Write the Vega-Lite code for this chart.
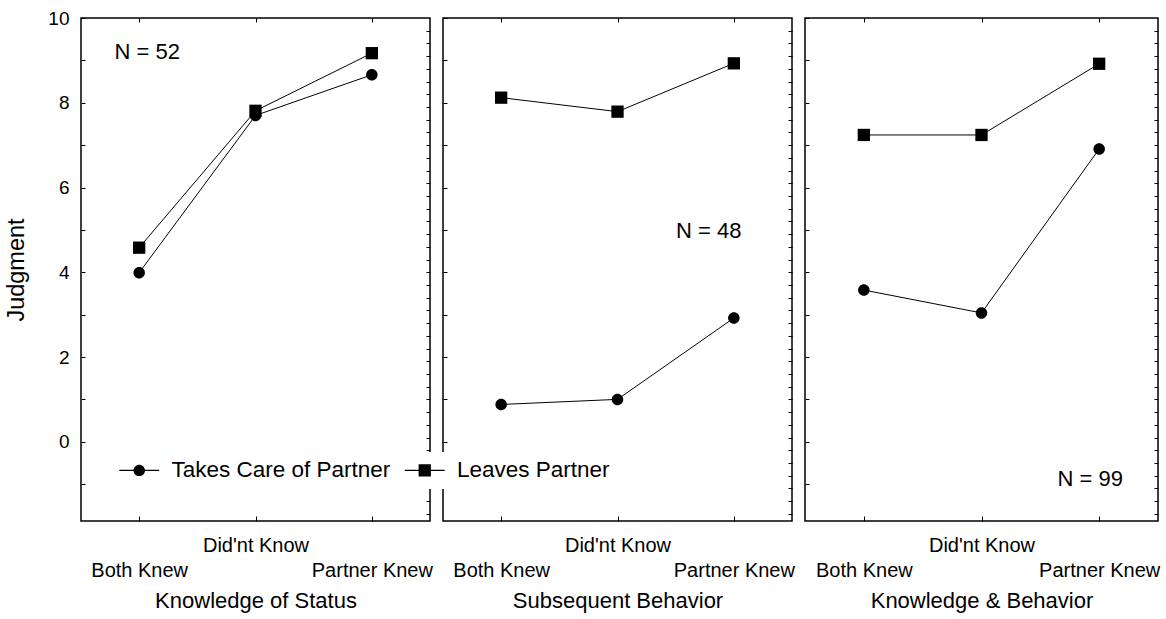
{
  "$schema": "https://vega.github.io/schema/vega-lite/v6.json",
  "background": "white",
  "padding": {"left": 4, "top": 8, "right": 2, "bottom": 2},
  "datasets": {
    "points": [
      {"panel": "Knowledge of Status", "level": "Both Knew", "series": "Takes Care of Partner", "value": 3.99},
      {"panel": "Knowledge of Status", "level": "Did'nt Know", "series": "Takes Care of Partner", "value": 7.70},
      {"panel": "Knowledge of Status", "level": "Partner Knew", "series": "Takes Care of Partner", "value": 8.66},
      {"panel": "Knowledge of Status", "level": "Both Knew", "series": "Leaves Partner", "value": 4.58},
      {"panel": "Knowledge of Status", "level": "Did'nt Know", "series": "Leaves Partner", "value": 7.81},
      {"panel": "Knowledge of Status", "level": "Partner Knew", "series": "Leaves Partner", "value": 9.17},
      {"panel": "Subsequent Behavior", "level": "Both Knew", "series": "Takes Care of Partner", "value": 0.88},
      {"panel": "Subsequent Behavior", "level": "Did'nt Know", "series": "Takes Care of Partner", "value": 1.00},
      {"panel": "Subsequent Behavior", "level": "Partner Knew", "series": "Takes Care of Partner", "value": 2.92},
      {"panel": "Subsequent Behavior", "level": "Both Knew", "series": "Leaves Partner", "value": 8.12},
      {"panel": "Subsequent Behavior", "level": "Did'nt Know", "series": "Leaves Partner", "value": 7.79},
      {"panel": "Subsequent Behavior", "level": "Partner Knew", "series": "Leaves Partner", "value": 8.93},
      {"panel": "Knowledge & Behavior", "level": "Both Knew", "series": "Takes Care of Partner", "value": 3.58},
      {"panel": "Knowledge & Behavior", "level": "Did'nt Know", "series": "Takes Care of Partner", "value": 3.04},
      {"panel": "Knowledge & Behavior", "level": "Partner Knew", "series": "Takes Care of Partner", "value": 6.91},
      {"panel": "Knowledge & Behavior", "level": "Both Knew", "series": "Leaves Partner", "value": 7.24},
      {"panel": "Knowledge & Behavior", "level": "Did'nt Know", "series": "Leaves Partner", "value": 7.24},
      {"panel": "Knowledge & Behavior", "level": "Partner Knew", "series": "Leaves Partner", "value": 8.92}
    ],
    "notes": [
      {"panel": "Knowledge of Status", "level": "Both Knew", "y": 9.2, "label": "N = 52"},
      {"panel": "Subsequent Behavior", "level": "Partner Knew", "y": 4.97, "label": "N = 48"},
      {"panel": "Knowledge & Behavior", "level": "Partner Knew", "y": -0.87, "label": "N = 99"}
    ]
  },
  "hconcat": [
    {
      "width": 349,
      "height": 503,
      "layer": [
        {
          "data": {"name": "points"},
          "transform": [{"filter": "datum.panel === 'Knowledge of Status'"}],
          "mark": {"type": "line", "color": "black", "strokeWidth": 1},
          "encoding": {
            "x": {"field": "level", "type": "ordinal", "sort": ["Both Knew", "Did'nt Know", "Partner Knew"], "scale": {"type": "point", "padding": 0.5},
              "axis": {"orient": "bottom", "title": "Knowledge of Status", "titlePadding": 10, "labelAngle": 0, "labelFontSize": 20, "tickSize": -5, "labelOverlap": false, "labelBound": false,
                "labelPadding": {"condition": {"test": "datum.value === \"Did'nt Know\"", "value": 19}, "value": 44}}},
            "y": {"field": "value", "type": "quantitative", "scale": {"domain": [-1.87, 10], "nice": false, "zero": false},
              "axis": {"orient": "left", "title": "Judgment", "titleFontSize": 23.5, "titlePadding": 19, "values": [-1, 0, 1, 2, 3, 4, 5, 6, 7, 8, 9, 10], "labelExpr": "datum.value % 2 === 0 ? datum.label : ''", "labelFontSize": 19, "labelPadding": 16, "tickSize": -4}},
            "detail": {"field": "series", "type": "nominal"}
          }
        },
        {
          "data": {"name": "points"},
          "transform": [{"filter": "datum.panel === 'Knowledge of Status' && datum.series === 'Takes Care of Partner'"}],
          "mark": {"type": "point", "filled": true, "color": "black", "opacity": 1, "size": 151, "shape": "M-0.935,0A0.935,0.935 0 1 1 0.935,0A0.935,0.935 0 1 1 -0.935,0Z"},
          "encoding": {
            "x": {"field": "level", "type": "ordinal", "sort": ["Both Knew", "Did'nt Know", "Partner Knew"], "scale": {"type": "point", "padding": 0.5},
              "axis": {"orient": "top", "title": null, "labels": false, "tickSize": -4}},
            "y": {"field": "value", "type": "quantitative", "scale": {"domain": [-1.87, 10], "nice": false, "zero": false},
              "axis": {"orient": "right", "title": null, "labels": false, "tickSize": -4, "values": [9.7, 9.4, 9.1, 8.8, 8.5, 8.2, 7.9, 7.6, 7.3, 7.0, 6.7, 6.4, 6.1, 5.8, 5.5, 5.2, 4.9, 4.6, 4.3, 4.0, 3.7, 3.4, 3.1, 2.8, 2.5, 2.2, 1.9, 1.6, 1.3, 1.0, 0.7, 0.4, 0.1, -0.2, -0.5, -0.8, -1.1, -1.4, -1.7]}}
          }
        },
        {
          "data": {"name": "points"},
          "transform": [{"filter": "datum.panel === 'Knowledge of Status' && datum.series === 'Leaves Partner'"}],
          "mark": {"type": "point", "filled": true, "color": "black", "opacity": 1, "size": 151, "shape": "square"},
          "encoding": {
            "x": {"field": "level", "type": "ordinal", "sort": ["Both Knew", "Did'nt Know", "Partner Knew"], "axis": null},
            "y": {"field": "value", "type": "quantitative", "axis": null}
          }
        },
        {
          "data": {"name": "points"},
          "transform": [{"filter": "false"}],
          "mark": {"type": "point", "filled": true, "color": "black", "opacity": 1},
          "encoding": {
            "shape": {"field": "series", "type": "nominal",
              "scale": {"domain": ["Takes Care of Partner", "Leaves Partner"], "range": ["M-3.25,-0.1H3.25V0.1H-3.25Z M-0.935,0A0.935,0.935 0 1 1 0.935,0A0.935,0.935 0 1 1 -0.935,0Z", "M-3.25,-0.1H3.25V0.1H-3.25Z M-1,-1H1V1H-1Z"]},
              "legend": {"orient": "none", "legendX": 40, "legendY": 434, "direction": "horizontal", "title": null, "fillColor": "white", "padding": 7, "labelFontSize": 22.5, "labelColor": "black", "labelLimit": 400, "labelOffset": 21, "columnPadding": 10.5, "symbolSize": 151,
                "symbolFillColor": "black", "symbolOpacity": 1}}
          }
        },
        {
          "data": {"name": "notes"},
          "transform": [{"filter": "datum.panel === 'Knowledge of Status'"}],
          "mark": {"type": "text", "fontSize": 22, "color": "black", "dx": 8, "baseline": "middle"},
          "encoding": {
            "x": {"field": "level", "type": "ordinal", "sort": ["Both Knew", "Did'nt Know", "Partner Knew"], "axis": null},
            "y": {"field": "y", "type": "quantitative", "axis": null},
            "text": {"field": "label"}
          }
        }
      ],
      "resolve": {"axis": {"x": "independent", "y": "independent"}}
    },
    {
      "width": 349,
      "height": 503,
      "layer": [
        {
          "data": {"name": "points"},
          "transform": [{"filter": "datum.panel === 'Subsequent Behavior'"}],
          "mark": {"type": "line", "color": "black", "strokeWidth": 1},
          "encoding": {
            "x": {"field": "level", "type": "ordinal", "sort": ["Both Knew", "Did'nt Know", "Partner Knew"], "scale": {"type": "point", "padding": 0.5},
              "axis": {"orient": "bottom", "title": "Subsequent Behavior", "titlePadding": 10, "labelAngle": 0, "labelFontSize": 20, "tickSize": -5, "labelOverlap": false, "labelBound": false,
                "labelPadding": {"condition": {"test": "datum.value === \"Did'nt Know\"", "value": 19}, "value": 44}}},
            "y": {"field": "value", "type": "quantitative", "scale": {"domain": [-1.87, 10], "nice": false, "zero": false},
              "axis": {"orient": "left", "title": null, "labels": false, "values": [-1, 0, 1, 2, 3, 4, 5, 6, 7, 8, 9, 10], "tickSize": -4}},
            "detail": {"field": "series", "type": "nominal"}
          }
        },
        {
          "data": {"name": "points"},
          "transform": [{"filter": "datum.panel === 'Subsequent Behavior' && datum.series === 'Takes Care of Partner'"}],
          "mark": {"type": "point", "filled": true, "color": "black", "opacity": 1, "size": 151, "shape": "M-0.935,0A0.935,0.935 0 1 1 0.935,0A0.935,0.935 0 1 1 -0.935,0Z"},
          "encoding": {
            "x": {"field": "level", "type": "ordinal", "sort": ["Both Knew", "Did'nt Know", "Partner Knew"], "scale": {"type": "point", "padding": 0.5},
              "axis": {"orient": "top", "title": null, "labels": false, "tickSize": -4}},
            "y": {"field": "value", "type": "quantitative", "scale": {"domain": [-1.87, 10], "nice": false, "zero": false},
              "axis": {"orient": "right", "title": null, "labels": false, "tickSize": -4, "values": [9.7, 9.4, 9.1, 8.8, 8.5, 8.2, 7.9, 7.6, 7.3, 7.0, 6.7, 6.4, 6.1, 5.8, 5.5, 5.2, 4.9, 4.6, 4.3, 4.0, 3.7, 3.4, 3.1, 2.8, 2.5, 2.2, 1.9, 1.6, 1.3, 1.0, 0.7, 0.4, 0.1, -0.2, -0.5, -0.8, -1.1, -1.4, -1.7]}}
          }
        },
        {
          "data": {"name": "points"},
          "transform": [{"filter": "datum.panel === 'Subsequent Behavior' && datum.series === 'Leaves Partner'"}],
          "mark": {"type": "point", "filled": true, "color": "black", "opacity": 1, "size": 151, "shape": "square"},
          "encoding": {
            "x": {"field": "level", "type": "ordinal", "sort": ["Both Knew", "Did'nt Know", "Partner Knew"], "axis": null},
            "y": {"field": "value", "type": "quantitative", "axis": null}
          }
        },
        {
          "data": {"name": "notes"},
          "transform": [{"filter": "datum.panel === 'Subsequent Behavior'"}],
          "mark": {"type": "text", "fontSize": 22, "color": "black", "dx": -25, "baseline": "middle"},
          "encoding": {
            "x": {"field": "level", "type": "ordinal", "sort": ["Both Knew", "Did'nt Know", "Partner Knew"], "axis": null},
            "y": {"field": "y", "type": "quantitative", "axis": null},
            "text": {"field": "label"}
          }
        }
      ],
      "resolve": {"axis": {"x": "independent", "y": "independent"}}
    },
    {
      "width": 353,
      "height": 503,
      "layer": [
        {
          "data": {"name": "points"},
          "transform": [{"filter": "datum.panel === 'Knowledge & Behavior'"}],
          "mark": {"type": "line", "color": "black", "strokeWidth": 1},
          "encoding": {
            "x": {"field": "level", "type": "ordinal", "sort": ["Both Knew", "Did'nt Know", "Partner Knew"], "scale": {"type": "point", "padding": 0.5},
              "axis": {"orient": "bottom", "title": "Knowledge & Behavior", "titlePadding": 10, "labelAngle": 0, "labelFontSize": 20, "tickSize": -5, "labelOverlap": false, "labelBound": false,
                "labelPadding": {"condition": {"test": "datum.value === \"Did'nt Know\"", "value": 19}, "value": 44}}},
            "y": {"field": "value", "type": "quantitative", "scale": {"domain": [-1.87, 10], "nice": false, "zero": false},
              "axis": {"orient": "left", "title": null, "labels": false, "values": [-1, 0, 1, 2, 3, 4, 5, 6, 7, 8, 9, 10], "tickSize": -4}},
            "detail": {"field": "series", "type": "nominal"}
          }
        },
        {
          "data": {"name": "points"},
          "transform": [{"filter": "datum.panel === 'Knowledge & Behavior' && datum.series === 'Takes Care of Partner'"}],
          "mark": {"type": "point", "filled": true, "color": "black", "opacity": 1, "size": 151, "shape": "M-0.935,0A0.935,0.935 0 1 1 0.935,0A0.935,0.935 0 1 1 -0.935,0Z"},
          "encoding": {
            "x": {"field": "level", "type": "ordinal", "sort": ["Both Knew", "Did'nt Know", "Partner Knew"], "scale": {"type": "point", "padding": 0.5},
              "axis": {"orient": "top", "title": null, "labels": false, "tickSize": -4}},
            "y": {"field": "value", "type": "quantitative", "scale": {"domain": [-1.87, 10], "nice": false, "zero": false},
              "axis": {"orient": "right", "title": null, "labels": false, "tickSize": -4, "values": [9.7, 9.4, 9.1, 8.8, 8.5, 8.2, 7.9, 7.6, 7.3, 7.0, 6.7, 6.4, 6.1, 5.8, 5.5, 5.2, 4.9, 4.6, 4.3, 4.0, 3.7, 3.4, 3.1, 2.8, 2.5, 2.2, 1.9, 1.6, 1.3, 1.0, 0.7, 0.4, 0.1, -0.2, -0.5, -0.8, -1.1, -1.4, -1.7]}}
          }
        },
        {
          "data": {"name": "points"},
          "transform": [{"filter": "datum.panel === 'Knowledge & Behavior' && datum.series === 'Leaves Partner'"}],
          "mark": {"type": "point", "filled": true, "color": "black", "opacity": 1, "size": 151, "shape": "square"},
          "encoding": {
            "x": {"field": "level", "type": "ordinal", "sort": ["Both Knew", "Did'nt Know", "Partner Knew"], "axis": null},
            "y": {"field": "value", "type": "quantitative", "axis": null}
          }
        },
        {
          "data": {"name": "notes"},
          "transform": [{"filter": "datum.panel === 'Knowledge & Behavior'"}],
          "mark": {"type": "text", "fontSize": 22, "color": "black", "dx": -9, "baseline": "middle"},
          "encoding": {
            "x": {"field": "level", "type": "ordinal", "sort": ["Both Knew", "Did'nt Know", "Partner Knew"], "axis": null},
            "y": {"field": "y", "type": "quantitative", "axis": null},
            "text": {"field": "label"}
          }
        }
      ],
      "resolve": {"axis": {"x": "independent", "y": "independent"}}
    }
  ],
  "resolve": {"scale": {"x": "independent", "y": "independent"}},
  "config": {
    "font": "Liberation Sans",
    "view": {"stroke": "black", "strokeWidth": 1.5},
    "concat": {"spacing": 7},
    "axis": {"grid": false, "domain": false, "tickColor": "black", "tickWidth": 1, "labelColor": "black", "titleColor": "black", "titleFontWeight": "normal", "titleFontSize": 22, "labelFont": "Liberation Sans", "titleFont": "Liberation Sans"},
    "legend": {"labelFont": "Liberation Sans"}
  }
}
